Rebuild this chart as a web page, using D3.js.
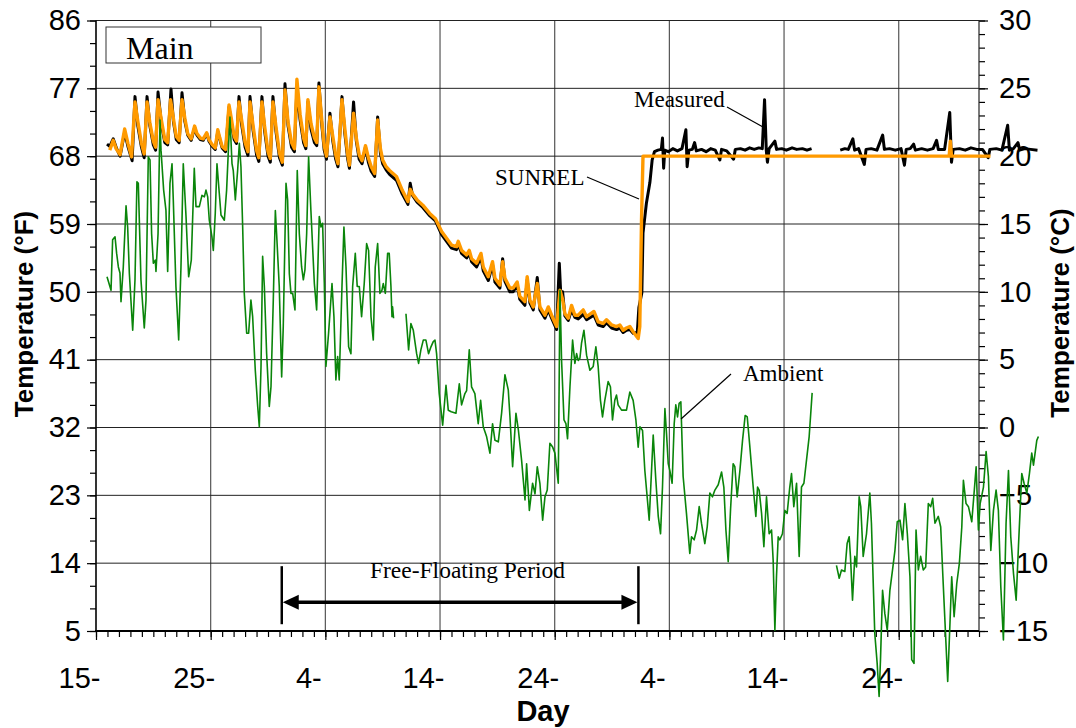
<!DOCTYPE html>
<html>
<head>
<meta charset="utf-8">
<script src="https://cdn.jsdelivr.net/npm/d3@7"></script>
<style>
  body { margin: 0; background: #fff; }
  text { font-family: "Liberation Sans", Arial, sans-serif; }
  .serif { font-family: "Liberation Serif", "Times New Roman", serif; }
</style>
</head>
<body>
<svg id="chart" width="1076" height="728"></svg>
<script>
// tick values and labels
var xTickDays = [0, 10, 20, 30, 40, 50, 60, 70];
var xTickLabels = ["15-", "25-", "4-", "14-", "24-", "4-", "14-", "24-"];
var fTicks = [5, 14, 23, 32, 41, 50, 59, 68, 77, 86];
var cTicks = [-15, -10, -5, 0, 5, 10, 15, 20, 25, 30];
var freeFloat = [16.2, 47.3];

// [day, degF]; null = no data
var measured = [
  [0.96,69.6],[1.2,69.3],[1.5,70.3],[1.8,69.0],[2.1,68.0],[2.5,71.2],[2.8,69.2],[3.15,67.4],
  [3.4,75.9],[3.65,72.0],[3.95,69.3],[4.2,67.8],
  [4.45,75.9],[4.7,72.0],[5.0,69.5],[5.2,68.8],
  [5.41,76.5],[5.7,72.3],[6.0,69.8],[6.25,69.5],
  [6.54,76.9],[6.75,72.6],[7.0,70.2],[7.25,69.8],
  [7.5,76.4],[7.75,72.6],[8.0,70.8],[8.3,70.1],
  [8.6,71.8],[8.8,70.8],[9.1,70.2],[9.35,70.1],
  [9.65,71.0],[9.85,70.0],[10.15,69.3],[10.4,68.9],
  [10.62,71.3],[10.8,70.2],[11.0,69.1],[11.3,68.6],
  [11.6,74.5],[11.8,72.4],[12.05,70.2],[12.25,69.7],
  [12.47,75.9],[12.7,72.2],[13.0,69.2],[13.25,68.1],
  [13.43,75.9],[13.7,71.4],[14.0,68.2],[14.2,67.3],
  [14.47,75.9],[14.7,71.4],[15.0,68.0],[15.2,67.2],
  [15.43,75.9],[15.7,71.2],[16.0,67.8],[16.25,66.8],
  [16.48,77.6],[16.75,72.0],[17.05,69.2],[17.3,68.6],
  [17.52,77.0],[17.8,72.8],[18.1,69.8],[18.3,69.0],
  [18.48,75.2],[18.75,71.6],[19.05,69.8],[19.25,69.4],
  [19.44,77.7],[19.7,72.0],[19.9,68.8],[20.1,67.6],
  [20.4,73.7],[20.65,70.0],[20.9,67.6],[21.1,66.6],
  [21.45,75.9],[21.7,71.0],[21.95,67.6],[22.1,66.4],
  [22.46,75.2],[22.7,70.0],[22.95,67.6],[23.2,67.0],
  [23.5,69.2],[23.75,67.2],[24.0,66.0],[24.3,65.3],
  [24.56,73.2],[24.8,68.4],[25.0,67.0],[25.3,66.2],[25.6,65.6],[26.2,64.8],[26.7,63.0],
  [27.2,61.6],[27.4,64.4],[27.6,62.8],[28.0,61.9],[28.5,61.2],[29.1,60.1],[29.6,59.4],
  [30.14,57.6],[30.57,56.7],[31.0,55.8],[31.44,55.6],[31.59,56.3],[31.88,55.1],[32.32,54.5],
  [32.55,55.1],[32.75,54.0],[33.19,53.3],[33.57,54.6],[33.77,52.8],[34.21,51.5],[34.58,53.6],
  [34.79,51.3],[35.22,50.5],[35.46,54.4],[35.66,51.4],[36.09,50.0],[36.38,50.0],[36.73,50.9],
  [36.96,49.0],[37.4,48.2],[37.6,51.6],[37.84,48.5],[38.13,47.6],[38.48,51.9],[38.71,47.6],
  [39.15,46.5],[39.44,47.6],[39.73,46.5],[40.17,45.0],[40.4,53.8],[40.55,49.0],[40.69,50.0],
  [40.89,46.8],[41.18,46.2],[41.47,47.6],[41.76,46.6],[42.05,46.4],[42.49,47.0],[42.78,46.3],
  [43.42,46.9],[43.79,45.6],[44.23,45.4],[44.52,45.9],[44.96,45.2],[45.39,45.0],[45.68,45.2],
  [45.97,44.6],[46.26,44.9],[46.55,45.0],[46.84,44.5],[47.2,44.6],[47.34,47.9],[47.6,49.9],
  [47.7,57.8],[48.0,61.8],[48.3,64.5],[48.5,67.5],[48.7,68.6],[49.0,68.8],[49.3,68.9],
  [49.4,70.4],[49.5,66.4],[49.6,68.8],[49.9,68.6],[50.3,69.0],[50.7,68.7],[51.1,69.0],
  [51.44,71.5],[51.55,66.6],[51.7,68.8],[52.0,68.9],[52.2,69.8],[52.35,68.7],[52.8,68.9],
  [53.2,68.6],[53.6,69.0],[54.0,68.8],[54.4,67.5],[54.55,68.9],[55.0,68.7],[55.6,67.6],
  [55.75,68.9],[56.2,69.0],[56.6,68.8],[57.0,69.1],[57.4,68.9],[57.8,69.1],[58.1,69.0],
  [58.3,75.5],[58.45,68.8],[58.55,67.2],[58.7,69.0],[59.2,70.0],[59.35,68.9],[59.8,69.0],
  [60.2,68.8],[60.7,69.1],[61.1,68.9],[61.6,69.0],[62.0,68.8],[62.4,69.0],
  null,
  [64.9,68.8],[65.3,69.0],[65.6,68.9],[66.0,70.3],[66.15,68.8],[66.5,69.0],[67.0,66.9],
  [67.15,68.9],[67.6,69.0],[68.1,68.8],[68.6,70.8],[68.75,68.9],[69.2,69.0],[69.7,68.8],
  [70.2,69.0],[70.5,66.8],[70.65,68.9],[71.0,69.0],[71.3,69.6],[71.45,68.8],[72.0,69.0],
  [72.5,68.8],[73.0,69.0],[73.3,70.1],[73.45,68.9],[74.0,68.9],[74.45,73.8],[74.6,67.2],
  [74.75,68.9],[75.3,69.0],[75.8,68.8],[76.3,69.1],[76.8,68.9],[77.3,68.9],[77.8,67.8],
  [77.95,68.9],[78.5,69.0],[79.0,68.8],[79.5,72.1],[79.65,68.8],[80.0,69.0],[80.4,69.8],
  [80.55,68.8],[81.0,69.0],[81.5,68.9],[82.1,68.8]
];

var sunrel = [
  [1.2,68.8],[1.5,70.1],[1.75,69.0],[2.1,68.2],[2.5,71.6],[2.8,69.6],[3.1,67.9],
  [3.4,75.2],[3.65,72.6],[3.95,69.8],[4.2,68.3],
  [4.45,75.2],[4.7,72.4],[5.0,70.0],[5.2,69.2],
  [5.41,75.5],[5.7,72.8],[6.0,70.2],[6.25,69.8],
  [6.5,75.5],[6.75,73.0],[7.0,70.6],[7.25,70.1],
  [7.5,75.5],[7.75,73.0],[8.0,71.0],[8.3,70.3],
  [8.6,72.0],[8.8,71.0],[9.1,70.4],[9.35,70.3],
  [9.65,71.1],[9.85,70.2],[10.15,69.5],[10.4,69.1],
  [10.62,71.5],[10.8,70.4],[11.0,69.3],[11.3,68.9],
  [11.6,74.8],[11.8,73.0],[12.05,70.6],[12.25,70.0],
  [12.47,75.2],[12.7,72.8],[13.0,69.8],[13.25,68.6],
  [13.43,75.2],[13.7,72.0],[14.0,68.8],[14.2,67.8],
  [14.47,75.2],[14.7,72.0],[15.0,68.6],[15.2,67.7],
  [15.43,75.2],[15.7,71.8],[16.0,68.4],[16.25,67.2],
  [16.48,76.8],[16.75,72.5],[17.05,69.8],[17.3,69.0],
  [17.52,78.2],[17.8,73.5],[18.1,70.4],[18.3,69.4],
  [18.48,75.5],[18.75,72.3],[19.05,70.4],[19.25,69.8],
  [19.44,77.2],[19.7,72.6],[19.9,69.4],[20.1,68.0],
  [20.4,73.2],[20.65,70.6],[20.9,68.2],[21.1,67.0],
  [21.45,75.5],[21.7,71.6],[21.95,68.2],[22.1,66.8],
  [22.46,73.7],[22.7,70.4],[22.95,68.2],[23.2,67.4],
  [23.5,69.4],[23.75,67.8],[24.0,66.6],[24.3,65.7],
  [24.56,72.8],[24.8,69.0],[25.0,67.5],[25.3,66.6],[25.6,66.1],[26.2,65.3],[26.7,63.5],
  [27.2,62.0],[27.4,63.6],[27.6,63.0],[28.0,62.2],[28.5,61.5],[29.1,60.4],[29.6,59.7],
  [30.14,58.0],[30.57,57.1],[31.0,56.2],[31.44,56.0],[31.59,56.7],[31.88,55.5],[32.32,54.9],
  [32.55,55.5],[32.75,54.4],[33.19,53.8],[33.57,55.1],[33.77,53.3],[34.21,52.0],[34.58,54.0],
  [34.79,51.8],[35.22,50.9],[35.46,54.0],[35.66,51.8],[36.09,50.5],[36.38,50.5],[36.73,51.3],
  [36.96,49.4],[37.4,48.7],[37.6,52.0],[37.84,48.9],[38.13,48.0],[38.48,51.1],[38.71,48.0],
  [39.15,46.9],[39.44,48.0],[39.73,46.9],[40.17,45.4],[40.46,50.2],[40.69,49.0],[40.89,47.1],
  [41.18,46.5],[41.47,48.2],[41.76,46.9],[42.05,46.9],[42.49,47.6],[42.78,46.7],[43.42,47.4],
  [43.79,46.0],[44.23,45.8],[44.52,46.3],[44.96,45.6],[45.39,45.4],[45.68,45.6],[45.97,44.9],
  [46.26,45.2],[46.55,45.4],[46.84,44.7],[47.28,43.8],[47.42,45.4],[47.57,59.5],[47.7,68.0],
  [74.4,68.0],[74.5,70.0],[74.6,68.0],[78.0,68.0]
];

var ambient = [
  [0.96,52.0],[1.31,50.2],[1.45,56.9],[1.66,57.3],[1.80,55.1],[1.95,53.3],[2.09,52.5],[2.18,48.7],
  [2.38,53.3],[2.62,61.4],[2.76,58.6],[2.91,52.4],[3.20,44.9],[3.40,51.6],[3.57,64.6],[3.69,64.4],
  [3.92,51.6],[4.21,45.2],[4.36,48.9],[4.56,67.9],[4.71,67.5],[4.85,57.7],[5.00,53.8],[5.17,54.2],
  [5.23,52.7],[5.41,57.7],[5.58,72.8],[5.67,68.8],[5.90,63.5],[6.10,60.8],[6.25,52.7],[6.45,64.4],
  [6.63,67.0],[6.74,62.2],[6.97,50.7],[7.21,43.6],[7.41,53.3],[7.61,67.0],[7.85,60.0],[8.08,52.0],
  [8.31,54.2],[8.57,66.4],[8.72,61.3],[9.01,61.3],[9.24,62.8],[9.45,62.6],[9.59,63.5],[9.74,62.6],
  [9.88,59.5],[10.11,57.3],[10.23,55.5],[10.40,60.4],[10.55,67.0],[10.75,63.1],[10.90,60.2],
  [11.19,59.5],[11.39,63.5],[11.57,69.7],[11.68,73.2],[11.86,67.0],[11.97,66.1],[12.15,62.2],
  [12.35,66.1],[12.50,69.7],[12.64,66.6],[12.79,58.6],[12.93,49.8],[13.14,44.5],[13.31,44.5],
  [13.51,48.9],[13.66,46.7],[13.89,39.6],[14.10,34.8],[14.24,32.1],[14.39,40.1],[14.53,54.7],
  [14.68,50.7],[14.88,41.8],[15.11,34.8],[15.26,37.4],[15.46,48.9],[15.64,60.8],[15.75,57.7],
  [15.98,50.7],[16.19,38.7],[16.33,45.4],[16.57,64.4],[16.71,62.2],[16.86,52.4],[17.00,49.8],
  [17.15,49.8],[17.35,47.6],[17.55,66.1],[17.73,57.7],[17.93,53.3],[18.08,51.6],[18.22,52.9],
  [18.37,57.7],[18.54,67.9],[18.74,60.8],[19.04,51.1],[19.24,47.6],[19.47,60.0],[19.62,58.6],
  [19.76,59.1],[19.91,51.1],[20.05,40.1],[20.28,44.5],[20.58,51.1],[20.75,46.7],[20.92,38.3],
  [21.07,41.4],[21.21,38.3],[21.45,50.7],[21.62,58.6],[21.80,53.3],[22.03,42.7],[22.23,41.8],
  [22.38,50.7],[22.61,55.1],[22.78,50.7],[22.96,50.7],[23.16,46.7],[23.39,51.1],[23.60,56.4],
  [23.77,55.5],[23.98,46.7],[24.18,43.6],[24.35,53.3],[24.56,56.4],[24.76,49.8],[24.93,50.2],
  [25.05,51.1],[25.23,49.8],[25.43,55.1],[25.57,55.1],[25.72,50.7],[25.81,46.7],[25.86,48.0],
  [25.95,46.5],
  null,
  [27.03,47.1],[27.26,42.3],[27.46,45.8],[27.67,44.9],[27.96,41.8],[28.13,40.5],[28.33,42.3],
  [28.54,43.6],[28.77,43.6],[29.00,41.8],[29.21,42.7],[29.41,43.4],[29.56,43.6],[29.70,41.8],
  [29.93,36.5],[30.23,32.3],[30.52,37.6],[30.72,34.3],[30.98,34.1],[31.39,33.9],[31.68,37.8],
  [31.88,35.0],[32.17,36.5],[32.32,36.9],[32.55,42.3],[32.75,37.4],[33.04,36.5],[33.33,32.5],
  [33.54,35.6],[33.77,32.1],[34.06,30.8],[34.35,28.6],[34.58,32.5],[34.79,30.3],[35.08,30.1],
  [35.37,33.9],[35.66,39.0],[35.95,37.0],[36.10,33.4],[36.33,26.8],[36.62,33.9],[36.83,31.7],
  [37.11,27.7],[37.41,22.4],[37.55,27.2],[37.79,21.0],[38.07,24.6],[38.28,23.2],[38.48,26.8],
  [38.71,24.6],[38.95,19.7],[39.15,22.8],[39.35,23.7],[39.58,29.9],[39.82,29.4],[40.02,28.6],
  [40.31,24.6],[40.46,50.2],[40.60,40.9],[40.81,33.0],[40.98,32.5],[41.12,30.5],[41.33,37.4],
  [41.56,43.6],[41.76,40.5],[41.91,41.8],[42.05,40.9],[42.20,41.2],[42.34,43.2],[42.55,44.9],
  [42.78,41.6],[43.07,39.6],[43.36,40.1],[43.59,42.7],[43.79,40.1],[43.99,35.6],[44.17,33.4],
  [44.37,35.6],[44.66,38.1],[44.86,37.4],[45.04,33.0],[45.24,35.6],[45.39,36.3],[45.53,35.0],
  [45.83,34.3],[46.26,34.3],[46.55,36.7],[46.84,35.6],[47.08,33.0],[47.28,29.4],[47.43,32.1],
  [47.66,31.6],[47.86,26.3],[48.24,19.7],[48.59,31.0],[48.82,25.0],[49.03,20.2],[49.23,17.9],
  [49.40,24.1],[49.61,34.5],[49.75,31.2],[49.90,27.2],[50.04,26.3],[50.24,24.6],[50.42,32.5],
  [50.56,35.0],[50.71,33.4],[50.85,35.2],[51.00,35.4],[51.20,25.5],[51.49,20.6],[51.78,15.3],
  [51.93,17.5],[52.16,17.1],[52.37,18.4],[52.60,21.5],[52.80,19.3],[53.09,16.6],[53.30,18.8],
  [53.53,23.3],[53.76,22.8],[53.97,23.7],[54.26,24.4],[54.55,26.1],[54.75,24.1],[54.93,18.4],
  [55.13,14.2],[55.33,21.0],[55.56,27.2],[55.71,26.8],[55.91,22.8],[56.15,26.3],[56.38,30.3],
  [56.61,33.6],[56.79,33.4],[57.02,29.4],[57.31,24.1],[57.54,20.2],[57.69,24.1],[57.83,23.7],
  [58.04,20.6],[58.24,16.2],[58.47,22.8],[58.70,17.9],[58.91,18.4],[59.05,14.4],[59.20,5.1],
  [59.34,12.2],[59.49,17.5],[59.63,17.1],[59.86,17.9],[60.07,21.0],[60.27,20.6],[60.50,24.1],
  [60.65,25.9],[60.85,21.5],[61.09,24.6],[61.32,14.9],[61.52,24.1],[61.73,24.6],[61.96,27.7],
  [62.19,30.8],[62.45,36.6],
  null,
  [64.57,13.7],[64.81,12.0],[65.01,13.1],[65.30,12.9],[65.50,16.6],[65.68,17.5],[65.79,14.9],
  [65.97,9.1],[66.17,14.9],[66.32,13.5],[66.55,22.8],[66.69,21.5],[66.90,14.9],[67.19,17.9],
  [67.48,23.3],[67.62,19.3],[67.91,4.7],[68.12,0.7],[68.29,-3.7],[68.41,1.2],[68.59,10.4],
  [68.79,7.3],[69.00,5.1],[69.23,10.4],[69.46,13.1],[69.67,15.7],[69.87,19.5],[70.11,19.7],
  [70.34,17.1],[70.54,21.9],[70.75,17.9],[70.98,12.2],[71.13,1.2],[71.33,0.7],[71.51,18.4],
  [71.71,13.1],[71.91,14.9],[72.14,13.1],[72.35,13.5],[72.58,21.9],[72.79,21.5],[72.96,22.6],
  [73.16,19.3],[73.45,20.2],[73.66,18.8],[73.84,12.6],[74.04,6.0],[74.27,-1.7],[74.48,6.5],
  [74.62,12.2],[74.83,6.9],[75.06,11.3],[75.29,14.0],[75.50,18.8],[75.64,25.0],[75.87,21.9],
  [76.08,21.5],[76.37,19.5],[76.57,23.3],[76.75,26.8],[76.95,18.4],[77.10,21.9],[77.39,24.1],
  [77.62,28.8],[77.82,25.5],[78.03,15.7],[78.26,21.0],[78.49,23.7],[78.69,21.0],[78.90,10.9],
  [79.13,3.8],[79.36,19.3],[79.57,26.3],[79.77,17.5],[80.01,12.6],[80.24,9.1],[80.44,16.2],
  [80.73,25.9],[80.93,24.6],[81.17,23.3],[81.40,25.9],[81.60,28.6],[81.75,27.0],[82.04,30.3],
  [82.18,30.8]
];

var svg = d3.select("#chart");

var x = d3.scaleLinear().domain([0, 77]).range([96, 979]);
var yF = d3.scaleLinear().domain([5, 86]).range([631, 20.5]);
var yC = d3.scaleLinear().domain([-15, 30]).range([631, 20.5]);

// grid
svg.append("g").selectAll("line")
    .data(xTickDays.slice(1))
    .enter().append("line")
    .attr("x1", d => x(d)).attr("x2", d => x(d))
    .attr("y1", yF(86)).attr("y2", yF(5))
    .attr("stroke", "#555").attr("stroke-width", 1.2);

svg.append("g").selectAll("line")
    .data(fTicks.slice(1))
    .enter().append("line")
    .attr("x1", x(0)).attr("x2", x(77))
    .attr("y1", d => yF(d)).attr("y2", d => yF(d))
    .attr("stroke", "#222").attr("stroke-width", 1);

//Axes: minor ticks first, then major ticks with labels
function styleAxis(g, size) {
    g.select(".domain").remove();
    g.selectAll("line").attr("stroke", "#000").attr("stroke-width", 1.2);
    g.selectAll("text").style("font-size", size + "px").attr("fill", "#000");
}

svg.append("g").attr("transform", "translate(" + x(0) + ",0)")
    .call(d3.axisLeft(yF).tickValues(d3.range(5, 87, 3)).tickSize(6).tickFormat(""))
    .call(styleAxis, 29);
svg.append("g").attr("transform", "translate(" + x(0) + ",0)")
    .call(d3.axisLeft(yF).tickValues(fTicks).tickSize(9).tickPadding(6).tickFormat(d3.format("d")))
    .call(styleAxis, 29);

svg.append("g").attr("transform", "translate(" + x(77) + ",0)")
    .call(d3.axisRight(yC).tickValues(d3.range(-15, 31, 1)).tickSize(6).tickFormat(""))
    .call(styleAxis, 29);
svg.append("g").attr("transform", "translate(" + x(77) + ",0)")
    .call(d3.axisRight(yC).tickValues(cTicks).tickSize(9).tickPadding(11).tickFormat(d3.format("d")))
    .call(styleAxis, 29);

svg.append("g").attr("transform", "translate(0," + yF(5) + ")")
    .call(d3.axisBottom(x).tickValues(d3.range(0, 78, 1)).tickSize(6).tickFormat(""))
    .call(styleAxis, 29);
var xAx = svg.append("g").attr("transform", "translate(0," + yF(5) + ")")
    .call(d3.axisBottom(x).tickValues(xTickDays).tickSize(9)
        .tickFormat(function (d, i) { return xTickLabels[i]; }))
    .call(styleAxis, 29);
xAx.selectAll("text").attr("x", -17).attr("y", 57).attr("dy", 0);

// frame
svg.append("line").attr("x1", x(0)).attr("x2", x(77)).attr("y1", yF(86)).attr("y2", yF(86))
    .attr("stroke", "#222").attr("stroke-width", 1);
svg.append("line").attr("x1", x(77)).attr("x2", x(77)).attr("y1", yF(86)).attr("y2", yF(5))
    .attr("stroke", "#222").attr("stroke-width", 1.2);
svg.append("line").attr("x1", x(0)).attr("x2", x(0)).attr("y1", yF(86)).attr("y2", yF(5))
    .attr("stroke", "#000").attr("stroke-width", 1.6);
svg.append("line").attr("x1", x(0) - 1).attr("x2", x(77)).attr("y1", yF(5)).attr("y2", yF(5))
    .attr("stroke", "#000").attr("stroke-width", 2);

// axis titles
svg.append("text").attr("transform", "translate(33,314) rotate(-90)")
    .attr("text-anchor", "middle").style("font-size", "26px").style("font-weight", "bold")
    .text("Temperature (°F)");
svg.append("text").attr("transform", "translate(1069,313) rotate(-90)")
    .attr("text-anchor", "middle").style("font-size", "26px").style("font-weight", "bold")
    .text("Temperature (°C)");
svg.append("text").attr("x", 543).attr("y", 721)
    .attr("text-anchor", "middle").style("font-size", "29px").style("font-weight", "bold")
    .text("Day");

// series
var line = d3.line()
    .defined(function (d) { return d !== null; })
    .x(function (d) { return x(d[0]); })
    .y(function (d) { return yF(d[1]); });

svg.append("path").datum(measured).attr("d", line)
    .attr("fill", "none").attr("stroke", "#000").attr("stroke-width", 3)
    .attr("stroke-linejoin", "round");
svg.append("path").datum(sunrel).attr("d", line)
    .attr("fill", "none").attr("stroke", "#ff9a00").attr("stroke-width", 3.4)
    .attr("stroke-linejoin", "round");
svg.append("path").datum(ambient).attr("d", line)
    .attr("fill", "none").attr("stroke", "#0a850a").attr("stroke-width", 1.6)
    .attr("stroke-linejoin", "round");

// legend box
svg.append("rect").attr("x", 106).attr("y", 27).attr("width", 155).attr("height", 36)
    .attr("fill", "#fff").attr("stroke", "#333").attr("stroke-width", 1);
svg.append("text").attr("class", "serif").attr("x", 126).attr("y", 59)
    .style("font-size", "32px").text("Main");

// labels with leader lines
var notes = [
    {t: "Measured", tx: 634, ty: 107, x1: 727, y1: 107, x2: 763, y2: 127},
    {t: "SUNREL", tx: 495, ty: 185, x1: 587, y1: 177, x2: 639, y2: 199},
    {t: "Ambient", tx: 743, ty: 381, x1: 731, y1: 374, x2: 681, y2: 419}
];
notes.forEach(function (n) {
    svg.append("line").attr("x1", n.x1).attr("y1", n.y1).attr("x2", n.x2).attr("y2", n.y2)
        .attr("stroke", "#000").attr("stroke-width", 1.2);
    svg.append("text").attr("class", "serif").attr("x", n.tx).attr("y", n.ty)
        .style("font-size", "23px").text(n.t);
});

// free-floating period
var ff = svg.append("g");
ff.selectAll("line.bar").data(freeFloat).enter().append("line")
    .attr("x1", d => x(d)).attr("x2", d => x(d))
    .attr("y1", yF(13.6)).attr("y2", yF(5.9))
    .attr("stroke", "#000").attr("stroke-width", 2.5);
var ay = yF(8.8);
ff.append("line").attr("x1", x(freeFloat[0]) + 10).attr("x2", x(freeFloat[1]) - 10)
    .attr("y1", ay).attr("y2", ay).attr("stroke", "#000").attr("stroke-width", 3.5);
ff.append("path")
    .attr("d", "M" + (x(freeFloat[0]) + 1) + "," + ay + "l16,-7.5v15z").attr("fill", "#000");
ff.append("path")
    .attr("d", "M" + (x(freeFloat[1]) - 1) + "," + ay + "l-16,-7.5v15z").attr("fill", "#000");
ff.append("text").attr("class", "serif").attr("x", x(32.4)).attr("y", 578)
    .attr("text-anchor", "middle").style("font-size", "23.5px").text("Free-Floating Period");
</script>
</body>
</html>
